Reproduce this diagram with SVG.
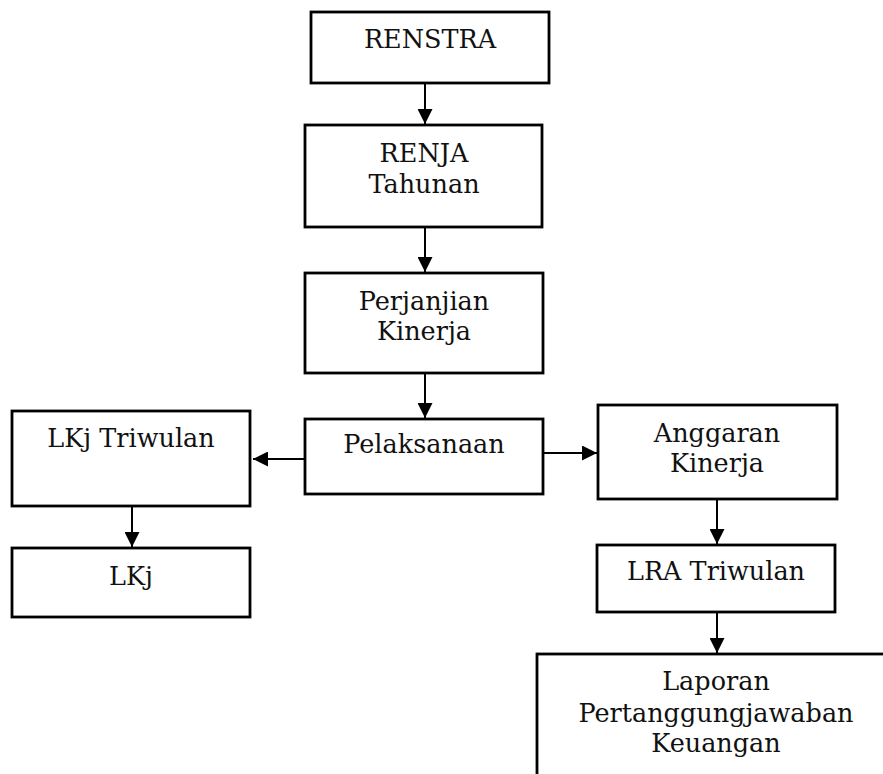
<svg xmlns="http://www.w3.org/2000/svg" width="883" height="774" viewBox="0 0 883 774">
<style>
.box{fill:#fff;stroke:#000;stroke-width:2.8}
.lbl{font-family:"DejaVu Serif","Liberation Serif",serif;font-size:25.5px;fill:#111;text-anchor:middle}
.con{stroke:#000;stroke-width:2;fill:none;marker-end:url(#ah)}
</style>
<defs>
<marker id="ah" markerUnits="userSpaceOnUse" markerWidth="15" markerHeight="15" viewBox="0 0 14 14" refX="14" refY="7" orient="auto">
<path d="M0,0 L14,7 L0,14 Z" fill="#000"/>
</marker>
</defs>
<rect width="883" height="774" fill="#fff"/>
<g id="connectors">
<line class="con" x1="425" y1="83" x2="425" y2="124"/>
<line class="con" x1="425" y1="228" x2="425" y2="272"/>
<line class="con" x1="425" y1="374" x2="425" y2="418"/>
<line class="con" x1="305" y1="459" x2="253" y2="459"/>
<line class="con" x1="543" y1="453" x2="597" y2="453"/>
<line class="con" x1="132" y1="506" x2="132" y2="547"/>
<line class="con" x1="717" y1="499" x2="717" y2="544"/>
<line class="con" x1="717" y1="612" x2="717" y2="653"/>
</g>
<g id="renstra"><rect class="box" x="311" y="12" width="238" height="71"/><text class="lbl" x="430" y="48">RENSTRA</text></g>
<g id="renja"><rect class="box" x="305" y="125" width="237" height="102"/><text class="lbl" x="424" y="162">RENJA</text><text class="lbl" x="424" y="193">Tahunan</text></g>
<g id="perjanjian"><rect class="box" x="305" y="273" width="238" height="100"/><text class="lbl" x="424" y="310">Perjanjian</text><text class="lbl" x="424" y="340">Kinerja</text></g>
<g id="pelaksanaan"><rect class="box" x="305" y="419" width="238" height="75"/><text class="lbl" x="424" y="453">Pelaksanaan</text></g>
<g id="lkj-triwulan"><rect class="box" x="12" y="411" width="238" height="95"/><text class="lbl" x="131" y="447">LKj Triwulan</text></g>
<g id="lkj"><rect class="box" x="12" y="548" width="238" height="69"/><text class="lbl" x="131" y="585">LKj</text></g>
<g id="anggaran"><rect class="box" x="598" y="405" width="239" height="94"/><text class="lbl" x="717" y="442">Anggaran</text><text class="lbl" x="717" y="472">Kinerja</text></g>
<g id="lra-triwulan"><rect class="box" x="597" y="545" width="238" height="67"/><text class="lbl" x="716" y="580">LRA Triwulan</text></g>
<g id="laporan"><rect class="box" x="537" y="654" width="380" height="160"/><text class="lbl" x="716" y="690">Laporan</text><text class="lbl" x="716" y="722">Pertanggungjawaban</text><text class="lbl" x="716" y="752">Keuangan</text></g>
</svg>
